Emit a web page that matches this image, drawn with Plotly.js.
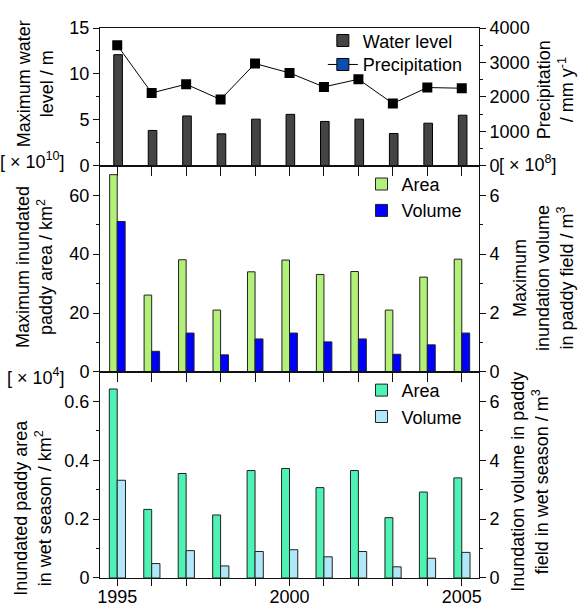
<!DOCTYPE html>
<html>
<head>
<meta charset="utf-8">
<script src="https://cdn.plot.ly/plotly-3.0.1.min.js"></script>
<style>html,body{margin:0;padding:0;background:#fff;}#chart{width:579px;height:607px;}</style>
</head>
<body>
<div id="chart"></div>
<script>
// ---- data ----
const years = [1995, 1996, 1997, 1998, 1999, 2000, 2001, 2002, 2003, 2004, 2005];
const waterLevel = [12.1, 3.85, 5.43, 3.48, 5.08, 5.6, 4.83, 5.08, 3.52, 4.64, 5.51];          // m
const precipitation = [3500, 2116, 2368, 1924, 2968, 2696, 2290, 2513, 1809, 2272, 2252];      // mm/y
const maxArea = [67, 26.1, 38.1, 21, 34, 38, 33.1, 34.1, 21, 32.2, 38.3];                      // km2
const maxVolume = [5.11, 0.70, 1.32, 0.58, 1.12, 1.32, 1.02, 1.12, 0.60, 0.92, 1.32];           // m3
const wetArea = [0.642, 0.233, 0.355, 0.214, 0.365, 0.372, 0.307, 0.365, 0.205, 0.292, 0.34];   // km2
const wetVolume = [3.32, 0.49, 0.93, 0.41, 0.90, 0.96, 0.72, 0.90, 0.38, 0.67, 0.87];          // m3

const FONT = 'Liberation Sans, Arial, sans-serif';
const FS = 18;
const dark = '#111';
const tf = {family: FONT, size: FS, color: '#000'};

const traces = [
  {type: 'bar', name: 'Water level', x: years, y: waterLevel, xaxis: 'x', yaxis: 'y',
   width: 0.25, offset: -0.1, marker: {color: '#444444', line: {color: '#000', width: 1}}, legend: 'legend'},
  {type: 'scatter', mode: 'lines+markers', name: 'Precipitation', x: years, y: precipitation,
   xaxis: 'x', yaxis: 'y2', showlegend: false,
   line: {color: '#000', width: 1}, marker: {symbol: 'square', size: 10, color: '#000'}},
  {type: 'scatter', mode: 'lines+markers', name: 'Precipitation', x: [null], y: [null],
   xaxis: 'x', yaxis: 'y2', legend: 'legend4',
   line: {color: '#000', width: 1}, marker: {symbol: 'square', size: 12, color: '#0a4fb0', line: {color: '#000', width: 1}}},

  {type: 'bar', name: 'Area', x: years, y: maxArea, xaxis: 'x2', yaxis: 'y3',
   width: 0.22, offset: -0.22, marker: {color: '#b2f07a', line: {color: '#222', width: 1}}, legend: 'legend2'},
  {type: 'bar', name: 'Volume', x: years, y: maxVolume, xaxis: 'x2', yaxis: 'y4',
   width: 0.23, offset: 0, marker: {color: '#0000ff', line: {color: '#222', width: 1}}, legend: 'legend2'},

  {type: 'bar', name: 'Area', x: years, y: wetArea, xaxis: 'x3', yaxis: 'y5',
   width: 0.23, offset: -0.23, marker: {color: '#4ef2b4', line: {color: '#222', width: 1}}, legend: 'legend3'},
  {type: 'bar', name: 'Volume', x: years, y: wetVolume, xaxis: 'x3', yaxis: 'y6',
   width: 0.24, offset: 0, marker: {color: '#b0e8fa', line: {color: '#222', width: 1}}, legend: 'legend3'}
];

const d1 = [0.7494, 1], d2 = [0.3747, 0.7494], d3 = [0, 0.3747];

function xAxis(anchor, labels) {
  return {
    anchor: anchor, domain: [0, 1], range: [1994.5, 2005.5],
    tickmode: 'linear', tick0: 1995, dtick: 5, showticklabels: labels,
    ticks: 'outside', ticklen: labels ? 7 : 9, tickwidth: 1, tickcolor: dark,
    minor: {tick0: 1995, dtick: 1, ticks: 'outside', ticklen: labels ? 7 : 9, tickcolor: dark, tickwidth: 1},
    ticklabelstandoff: labels ? -5 : 0,
    showline: true, linecolor: dark, linewidth: 1, mirror: true,
    showgrid: false, zeroline: false, fixedrange: true,
    tickfont: tf
  };
}
function yAxis(opts) {
  return Object.assign({
    showgrid: false, zeroline: false, showline: true, linecolor: dark, linewidth: 1,
    ticks: 'outside', ticklen: 6, tickwidth: 1, tickcolor: dark,
    tickfont: tf, automargin: false
  }, opts);
}
function minor(d) { return {dtick: d, ticklen: 3, ticks: 'outside', tickcolor: dark}; }
function title(text, x, y) {
  return {xref: 'paper', yref: 'paper', x: x, y: y, xanchor: 'center', yanchor: 'middle',
    textangle: -90, text: text, showarrow: false, font: tf, align: 'center'};
}
const X = px => (px - 100) / 379;
const Y = py => (578.3 - py) / 550.6;

const layout = {
  width: 579, height: 607,
  margin: {l: 100, r: 100, t: 28, b: 29},
  paper_bgcolor: '#fff', plot_bgcolor: '#fff',
  font: tf,
  barmode: 'overlay',
  xaxis: xAxis('y', false),
  xaxis2: xAxis('y3', false),
  xaxis3: xAxis('y5', true),
  yaxis: yAxis({domain: d1, anchor: 'x', range: [0, 15], dtick: 5, minor: minor(2.5)}),
  yaxis2: yAxis({domain: d1, anchor: 'x', overlaying: 'y', side: 'right', range: [0, 4000], dtick: 1000, minor: minor(500)}),
  yaxis3: yAxis({domain: d2, anchor: 'x2', range: [0, 70], dtick: 20, minor: minor(10)}),
  yaxis4: yAxis({domain: d2, anchor: 'x2', overlaying: 'y3', side: 'right', range: [0, 7], dtick: 2, minor: minor(1)}),
  yaxis5: yAxis({domain: d3, anchor: 'x3', range: [0, 0.7], dtick: 0.2, minor: minor(0.1)}),
  yaxis6: yAxis({domain: d3, anchor: 'x3', overlaying: 'y5', side: 'right', range: [0, 7], dtick: 2, minor: minor(1)}),
  legend: {x: 0.588, y: 1.0104, xanchor: 'left', yanchor: 'top', bgcolor: 'rgba(0,0,0,0)',
    font: tf, tracegroupgap: 0, itemclick: false},
  legend4: {x: 0.588, y: 0.9668, xanchor: 'left', yanchor: 'top', bgcolor: 'rgba(0,0,0,0)',
    font: tf, tracegroupgap: 0, itemclick: false},
  legend2: {x: 0.69, y: 0.7494, xanchor: 'left', yanchor: 'top', bgcolor: 'rgba(0,0,0,0)',
    font: tf, tracegroupgap: 0, itemclick: false},
  legend3: {x: 0.69, y: 0.3747, xanchor: 'left', yanchor: 'top', bgcolor: 'rgba(0,0,0,0)',
    font: tf, tracegroupgap: 0, itemclick: false},
  annotations: [
    title('Maximum water<br>level / m', X(35), Y(84)),
    title('Precipitation<br>/ mm y<sup>-1</sup>', X(555), Y(90)),
    title('Maximum inundated<br>paddy area / km<sup>2</sup>', X(34), Y(267)),
    title('Maximum<br>inundation volume<br>in paddy field / m<sup>3</sup>', X(543), Y(278)),
    title('Inundated paddy area<br>in wet season / km<sup>2</sup>', X(33), Y(508)),
    title('Inundation volume in paddy<br>field in wet season / m<sup>3</sup>', X(530), Y(482)),
    {xref: 'paper', yref: 'paper', x: X(67), y: Y(160), xanchor: 'right', yanchor: 'middle',
     text: '[ × 10<sup>10</sup>]', showarrow: false, font: tf},
    {xref: 'paper', yref: 'paper', x: X(497), y: Y(163), xanchor: 'left', yanchor: 'middle',
     text: '[ × 10<sup>8</sup>]', showarrow: false, font: tf},
    {xref: 'paper', yref: 'paper', x: X(67), y: Y(377), xanchor: 'right', yanchor: 'middle',
     text: '[ × 10<sup>4</sup>]', showarrow: false, font: tf}
  ]
};

Plotly.newPlot('chart', traces, layout, {displayModeBar: false, staticPlot: true});
</script>
</body>
</html>
